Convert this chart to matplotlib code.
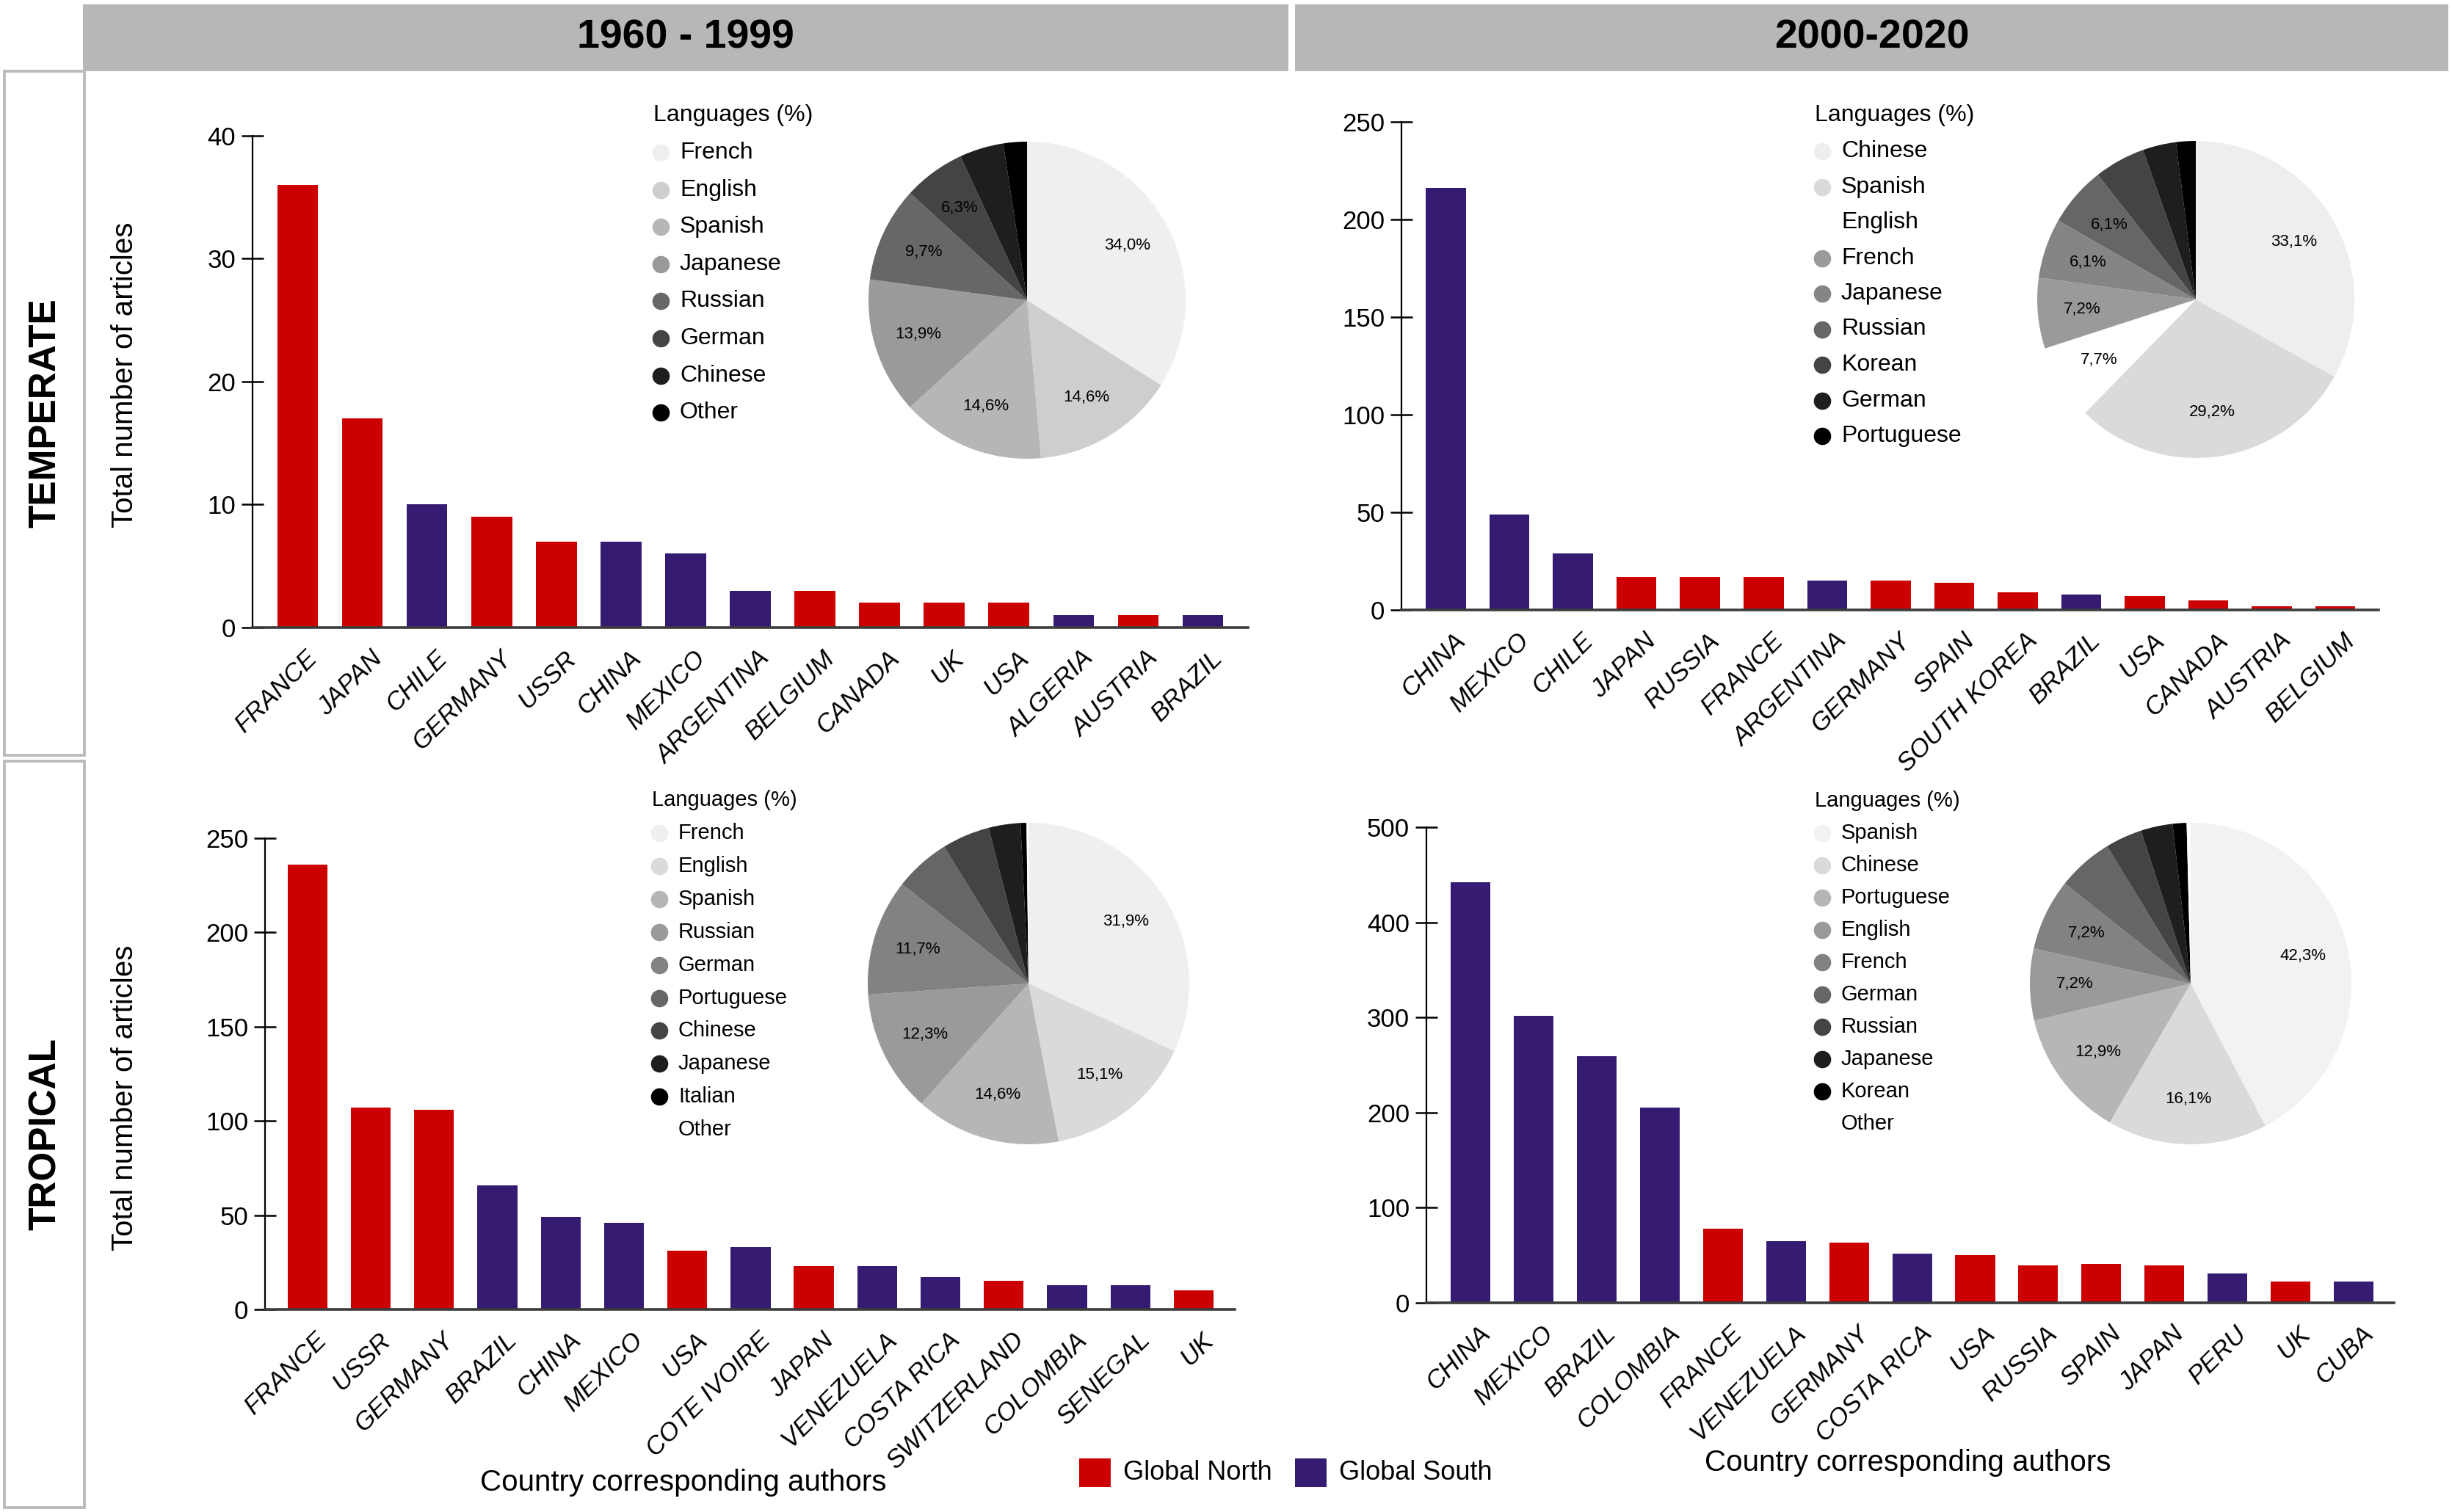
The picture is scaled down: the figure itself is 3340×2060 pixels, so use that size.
import matplotlib
matplotlib.use("Agg")
import matplotlib.pyplot as plt
from matplotlib.lines import Line2D
from matplotlib.patches import Rectangle
from matplotlib.transforms import ScaledTranslation

plt.rcParams['font.family'] = ['Liberation Sans', 'DejaVu Sans']

NORTH = '#cc0000'
SOUTH = '#351c72'

# ---- bar data (countries of corresponding authors) ----
tl_names = ['FRANCE', 'JAPAN', 'CHILE', 'GERMANY', 'USSR', 'CHINA', 'MEXICO', 'ARGENTINA',
            'BELGIUM', 'CANADA', 'UK', 'USA', 'ALGERIA', 'AUSTRIA', 'BRAZIL']
tl_values = [36, 17, 10, 9, 7, 7, 6, 3, 3, 2, 2, 2, 1, 1, 1]
tl_groups = ['N', 'N', 'S', 'N', 'N', 'S', 'S', 'S', 'N', 'N', 'N', 'N', 'S', 'N', 'S']

tr_names = ['CHINA', 'MEXICO', 'CHILE', 'JAPAN', 'RUSSIA', 'FRANCE', 'ARGENTINA', 'GERMANY',
            'SPAIN', 'SOUTH KOREA', 'BRAZIL', 'USA', 'CANADA', 'AUSTRIA', 'BELGIUM']
tr_values = [216, 49, 29, 17, 17, 17, 15, 15, 14, 9, 8, 7, 5, 2, 2]
tr_groups = ['S', 'S', 'S', 'N', 'N', 'N', 'S', 'N', 'N', 'N', 'S', 'N', 'N', 'N', 'N']

bl_names = ['FRANCE', 'USSR', 'GERMANY', 'BRAZIL', 'CHINA', 'MEXICO', 'USA', 'COTE IVOIRE',
            'JAPAN', 'VENEZUELA', 'COSTA RICA', 'SWITZERLAND', 'COLOMBIA', 'SENEGAL', 'UK']
bl_values = [236, 107, 106, 66, 49, 46, 31, 33, 23, 23, 17, 15, 13, 13, 10]
bl_groups = ['N', 'N', 'N', 'S', 'S', 'S', 'N', 'S', 'N', 'S', 'S', 'N', 'S', 'S', 'N']

br_names = ['CHINA', 'MEXICO', 'BRAZIL', 'COLOMBIA', 'FRANCE', 'VENEZUELA', 'GERMANY',
            'COSTA RICA', 'USA', 'RUSSIA', 'SPAIN', 'JAPAN', 'PERU', 'UK', 'CUBA']
br_values = [442, 302, 259, 205, 78, 65, 63, 52, 50, 39, 41, 39, 31, 22, 22]
br_groups = ['S', 'S', 'S', 'S', 'N', 'S', 'N', 'S', 'N', 'N', 'N', 'N', 'S', 'N', 'S']

# ---- language pies ----
tl_langs = ['French', 'English', 'Spanish', 'Japanese', 'Russian', 'German', 'Chinese', 'Other']
tl_shares = [34.0, 14.6, 14.6, 13.9, 9.7, 6.3, 4.5, 2.4]
tl_grays = ['#efefef', '#cecece', '#b6b6b6', '#9a9a9a', '#676767', '#444444', '#1e1e1e', '#000000']

tr_langs = ['Chinese', 'Spanish', 'English', 'French', 'Japanese', 'Russian', 'Korean', 'German', 'Portuguese']
tr_shares = [33.1, 29.2, 7.7, 7.2, 6.1, 6.1, 5.2, 3.4, 2.0]
tr_grays = ['#eeeeee', '#dadada', '#ffffff', '#9a9a9a', '#858585', '#666666', '#444444', '#1e1e1e', '#000000']

bl_langs = ['French', 'English', 'Spanish', 'Russian', 'German', 'Portuguese', 'Chinese', 'Japanese', 'Italian', 'Other']
bl_shares = [31.9, 15.1, 14.6, 12.3, 11.7, 5.6, 4.8, 3.2, 0.6, 0.2]
bl_grays = ['#efefef', '#dadada', '#b6b6b6', '#9a9a9a', '#828282', '#666666', '#444444', '#1e1e1e', '#000000', '#ffffff']

br_langs = ['Spanish', 'Chinese', 'Portuguese', 'English', 'French', 'German', 'Russian', 'Japanese', 'Korean', 'Other']
br_shares = [42.3, 16.1, 12.9, 7.2, 7.2, 5.6, 3.7, 3.2, 1.4, 0.4]
br_grays = ['#f2f2f2', '#dadada', '#b6b6b6', '#9a9a9a', '#828282', '#666666', '#444444', '#1e1e1e', '#000000', '#ffffff']

W, H = 3341, 2060
fig = plt.figure(figsize=(W / 200, H / 200), dpi=200)


def box(x0, y0, x1, y1):
    # pixel rectangle (top-left origin) -> figure fraction
    return [x0 / W, 1 - y1 / H, (x1 - x0) / W, (y1 - y0) / H]


def fx(x):
    return x / W


def fy(y):
    return 1 - y / H


def bar_panel(rect, names, values, groups, ymax, ystep, xlim):
    ax = fig.add_axes(rect)
    cols = [NORTH if g == 'N' else SOUTH for g in groups]
    pos = list(range(len(names)))
    ax.bar(pos, values, width=0.63, color=cols)
    ax.set_xlim(*xlim)
    ax.set_ylim(0, ymax)
    ax.set_yticks(range(0, ymax + 1, ystep))
    ax.set_xticks(pos)
    ax.set_xticklabels(names, rotation=45, ha='right', rotation_mode='anchor',
                       style='italic', fontsize=12.5)
    ax.tick_params(axis='x', length=0, pad=9)
    ax.tick_params(axis='y', direction='inout', length=10.5, width=0.9,
                   labelsize=12.5, pad=3)
    for s in ['top', 'right']:
        ax.spines[s].set_visible(False)
    ax.spines['left'].set_linewidth(0.8)
    ax.spines['bottom'].set_color('#3c3c3c')
    ax.spines['bottom'].set_linewidth(1.3)
    shift = ScaledTranslation(0.05, 0, fig.dpi_scale_trans)
    for lab in ax.get_xticklabels():
        lab.set_transform(lab.get_transform() + shift)
    return ax


def pct(p):
    return f'{p:.1f}%'.replace('.', ',') if p >= 6 else ''


def pie_panel(cx, cy, r, shares, grays, langs, lx, ly, pitch, fs):
    ax = fig.add_axes(box(cx - r, cy - r, cx + r, cy + r))
    ax.pie(shares, colors=grays, startangle=90, counterclock=False,
           autopct=pct, pctdistance=0.72, textprops={'fontsize': 8},
           wedgeprops={'linewidth': 0})
    ax.set_xlim(-1, 1)
    ax.set_ylim(-1, 1)
    # legend drawn by hand: title, then one circle + name per language
    fig.text(fx(lx - 10), fy(ly - pitch), 'Languages (%)', fontsize=fs,
             ha='left', va='center')
    for i, (name, g) in enumerate(zip(langs, grays)):
        y = ly + i * pitch
        fig.add_artist(Line2D([fx(lx)], [fy(y)], marker='o', ms=7.5, color=g,
                              transform=fig.transFigure))
        fig.text(fx(lx + 26), fy(y), name, fontsize=fs, ha='left', va='center')


bar_panel(box(344, 185, 1700, 855), tl_names, tl_values, tl_groups, 40, 10, (-0.70, 14.7))
bar_panel(box(1909, 166, 3240, 831), tr_names, tr_values, tr_groups, 250, 50, (-0.70, 14.68))
bar_panel(box(361, 1142, 1682, 1784), bl_names, bl_values, bl_groups, 250, 50, (-0.67, 14.65))
bar_panel(box(1943, 1127, 3261, 1775), br_names, br_values, br_groups, 500, 100, (-0.70, 14.64))

pie_panel(1399, 409, 216, tl_shares, tl_grays, tl_langs, 900, 208, 50.6, 11.5)
pie_panel(2991, 408, 216, tr_shares, tr_grays, tr_langs, 2482, 206, 48.5, 11.5)
pie_panel(1401, 1340, 219, bl_shares, bl_grays, bl_langs, 898, 1135, 44.9, 10.5)
pie_panel(2984, 1340, 219, br_shares, br_grays, br_langs, 2482, 1135, 44.0, 10.5)

# headers
for x0, x1, title in [(113, 1755, '1960 - 1999'), (1764, 3335, '2000-2020')]:
    fig.add_artist(Rectangle((fx(x0), fy(97)), (x1 - x0) / W, 91 / H,
                             transform=fig.transFigure, facecolor='#b7b7b7', edgecolor='none'))
    fig.text(fx((x0 + x1) / 2), fy(52), title, fontsize=20, fontweight='bold',
             ha='center', va='center')

# row labels
for y0, y1, title in [(97, 1029, 'TEMPERATE'), (1037, 2054, 'TROPICAL')]:
    fig.add_artist(Rectangle((fx(6), fy(y1)), 109 / W, (y1 - y0) / H,
                             transform=fig.transFigure, facecolor='none',
                             edgecolor='#bcbcbc', linewidth=1.4))
    fig.text(fx(62), fy((y0 + y1) / 2), title, fontsize=18.5, fontweight='bold',
             rotation=90, ha='center', va='center')

# axis titles
fig.text(fx(170), fy(511), 'Total number of articles', fontsize=14.5, rotation=90,
         ha='center', va='center')
fig.text(fx(170), fy(1496), 'Total number of articles', fontsize=14.5, rotation=90,
         ha='center', va='center')
fig.text(fx(931), fy(2020), 'Country corresponding authors', fontsize=14.5,
         ha='center', va='center')
fig.text(fx(2599), fy(1993), 'Country corresponding authors', fontsize=14.5,
         ha='center', va='center')

# Global North / South key
for x0, col, name in [(1470, NORTH, 'Global North'), (1764, SOUTH, 'Global South')]:
    fig.add_artist(Rectangle((fx(x0), fy(2026)), 43 / W, 39 / H,
                             transform=fig.transFigure, facecolor=col, edgecolor='none'))
    fig.text(fx(x0 + 60), fy(2006), name, fontsize=13, ha='left', va='center')

fig.savefig('out.png', dpi=200)
